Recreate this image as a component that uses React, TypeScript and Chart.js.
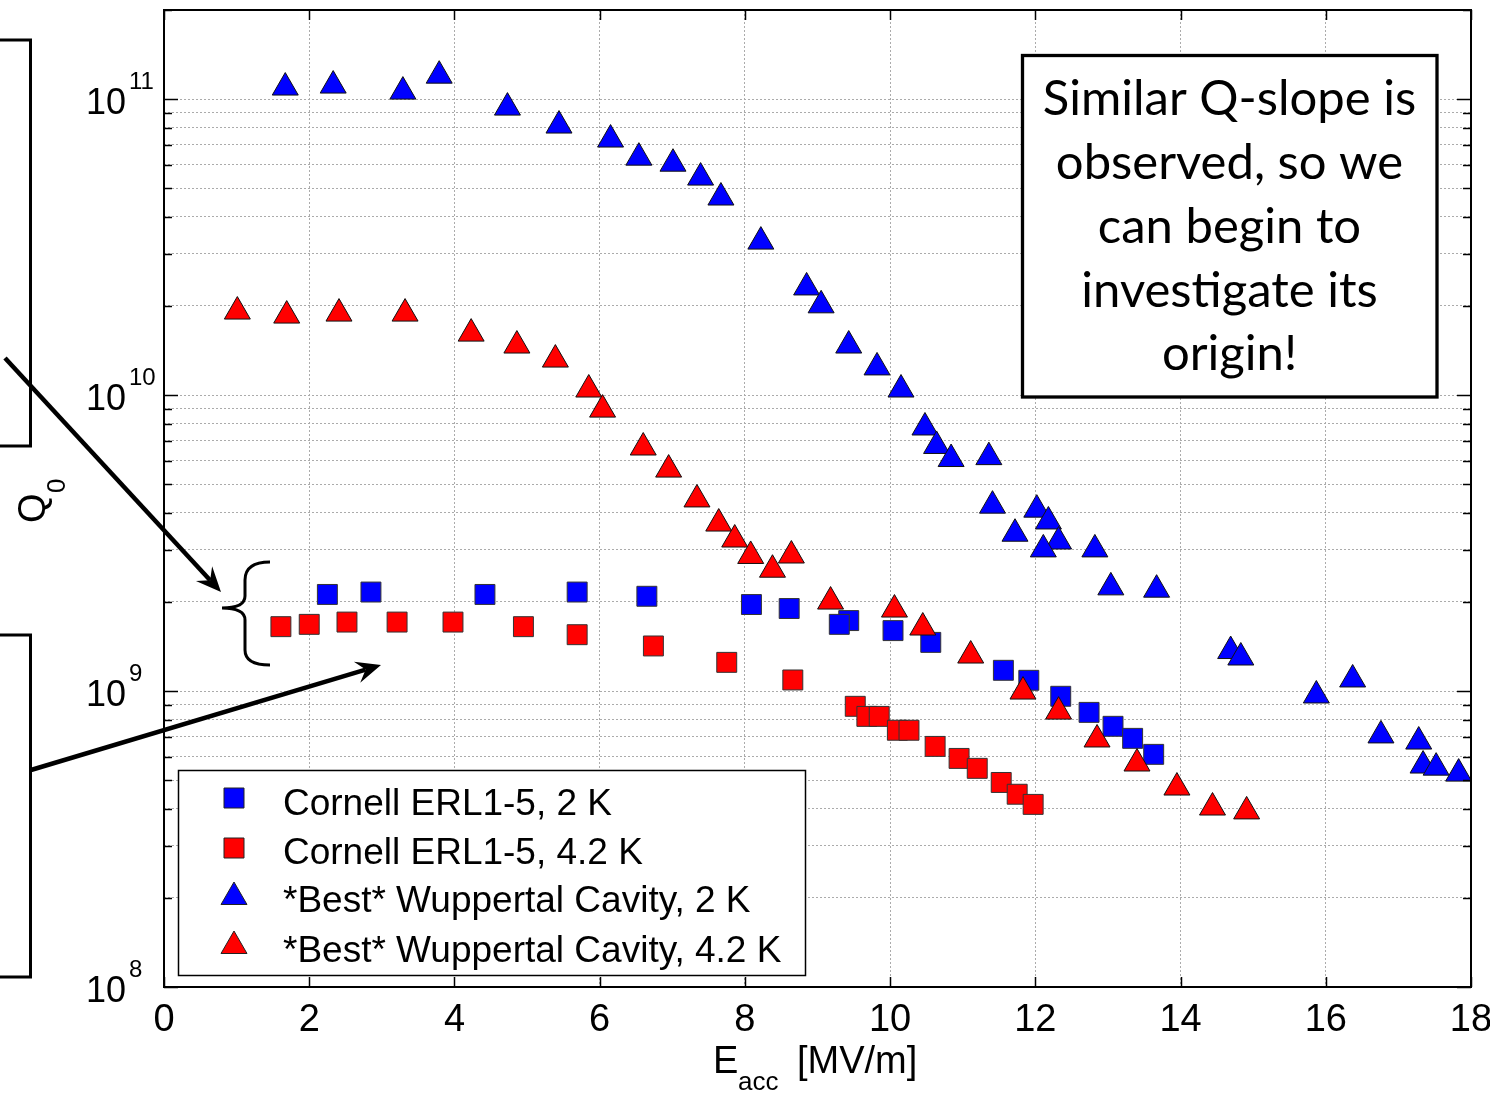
import React, { useEffect, useRef } from 'react';
import { Chart, registerables } from 'chart.js';

Chart.register(...registerables);

// ---------- data ----------
const cornell2K_E = [2.25, 2.85, 4.42, 5.69, 6.65, 8.09, 8.61, 9.43, 9.30, 10.04, 10.56, 11.56, 11.91, 12.35, 12.74, 13.07, 13.34, 13.63];
const cornell2K_Q = [2.12e9, 2.16e9, 2.12e9, 2.16e9, 2.09e9, 1.96e9, 1.90e9, 1.73e9, 1.68e9, 1.60e9, 1.46e9, 1.175e9, 1.087e9, 9.6e8, 8.47e8, 7.6e8, 6.92e8, 6.11e8];

const cornell42K_E = [1.61, 2.00, 2.52, 3.21, 3.98, 4.95, 5.69, 6.74, 7.75, 8.66, 9.52, 9.68, 9.85, 10.10, 10.26, 10.62, 10.95, 11.20, 11.53, 11.75, 11.97];
const cornell42K_Q = [1.65e9, 1.68e9, 1.71e9, 1.71e9, 1.71e9, 1.65e9, 1.55e9, 1.42e9, 1.25e9, 1.09e9, 8.88e8, 8.21e8, 8.21e8, 7.37e8, 7.37e8, 6.5e8, 5.92e8, 5.48e8, 4.91e8, 4.48e8, 4.14e8];

const wupp2K_E = [1.67, 2.33, 3.29, 3.79, 4.73, 5.44, 6.15, 6.54, 7.01, 7.39, 7.67, 8.22, 8.85, 9.05, 9.43, 9.82, 10.15, 10.48, 10.64, 10.84, 11.36, 11.41, 12.02, 12.18, 11.72, 12.32, 12.11, 12.82, 13.04, 13.67, 14.69, 14.83, 15.87, 16.37, 16.76, 17.28, 17.34, 17.52, 17.83];
const wupp2K_Q = [1.094e11, 1.111e11, 1.06e11, 1.2e11, 9.36e10, 8.14e10, 7.3e10, 6.34e10, 6.05e10, 5.43e10, 4.65e10, 3.3e10, 2.31e10, 2.01e10, 1.47e10, 1.24e10, 1.044e10, 7.77e9, 6.73e9, 6.08e9, 6.17e9, 4.23e9, 4.1e9, 3.74e9, 3.4e9, 3.2e9, 3.01e9, 3.01e9, 2.24e9, 2.2e9, 1.365e9, 1.298e9, 9.66e8, 1.094e9, 7.08e8, 6.75e8, 5.6e8, 5.51e8, 5.26e8];

const wupp42K_E = [1.01, 1.69, 2.41, 3.32, 4.23, 4.86, 5.39, 5.85, 6.04, 6.60, 6.95, 7.34, 7.64, 7.86, 8.08, 8.38, 8.64, 9.18, 10.06, 10.45, 11.11, 11.83, 12.32, 12.85, 13.40, 13.95, 14.44, 14.91];
const wupp42K_Q = [1.915e10, 1.856e10, 1.885e10, 1.885e10, 1.613e10, 1.47e10, 1.318e10, 1.044e10, 8.93e9, 6.65e9, 5.6e9, 4.44e9, 3.68e9, 3.25e9, 2.86e9, 2.57e9, 2.87e9, 2.006e9, 1.885e9, 1.639e9, 1.318e9, 9.96e8, 8.52e8, 6.86e8, 5.69e8, 4.72e8, 4.04e8, 3.92e8];

const seriesLabels = [
  'Cornell ERL1-5, 2 K',
  'Cornell ERL1-5, 4.2 K',
  '*Best* Wuppertal Cavity, 2 K',
  '*Best* Wuppertal Cavity, 4.2 K',
];

const xTickValues = [0, 2, 4, 6, 8, 10, 12, 14, 16, 18];
const xTickLabels = ['0', '2', '4', '6', '8', '10', '12', '14', '16', '18'];
const yDecadeValues = [1e8, 1e9, 1e10, 1e11];
const yDecadeExponents = ['8', '9', '10', '11'];
const yGridValues = [
  1e8, 2e8, 3e8, 4e8, 5e8, 6e8, 7e8, 8e8, 9e8,
  1e9, 2e9, 3e9, 4e9, 5e9, 6e9, 7e9, 8e9, 9e9,
  1e10, 2e10, 3e10, 4e10, 5e10, 6e10, 7e10, 8e10, 9e10,
  1e11, 2e11,
];
const noteLines = ['Similar Q-slope is', 'observed, so we', 'can begin to', 'investigate its', 'origin!'];

const SANS = '"Liberation Sans", Arial, sans-serif';

function pts(xs: number[], ys: number[]) {
  return xs.map((x, i) => ({ x, y: ys[i] }));
}

function line(ctx: CanvasRenderingContext2D, x1: number, y1: number, x2: number, y2: number) {
  ctx.beginPath();
  ctx.moveTo(x1, y1);
  ctx.lineTo(x2, y2);
  ctx.stroke();
}

function arrow(ctx: CanvasRenderingContext2D, x1: number, y1: number, x2: number, y2: number) {
  const dx = x2 - x1, dy = y2 - y1;
  const len = Math.hypot(dx, dy);
  const ux = dx / len, uy = dy / len;
  const nx = uy, ny = -ux;
  const L = 25, W = 11, inset = 16;
  ctx.lineWidth = 4.5;
  ctx.strokeStyle = '#000';
  line(ctx, x1, y1, x2 - ux * inset, y2 - uy * inset);
  ctx.fillStyle = '#000';
  ctx.beginPath();
  ctx.moveTo(x2, y2);
  ctx.lineTo(x2 - ux * L + nx * W, y2 - uy * L + ny * W);
  ctx.lineTo(x2 - ux * inset, y2 - uy * inset);
  ctx.lineTo(x2 - ux * L - nx * W, y2 - uy * L - ny * W);
  ctx.closePath();
  ctx.fill();
}

function marker(ctx: CanvasRenderingContext2D, style: string, x: number, y: number, color: string) {
  ctx.fillStyle = color;
  ctx.strokeStyle = '#222';
  ctx.lineWidth = 1;
  ctx.beginPath();
  if (style === 'rect') {
    ctx.rect(x - 10, y - 10, 20, 20);
  } else {
    const r = 15;
    ctx.moveTo(x, y - r);
    ctx.lineTo(x + r * Math.sin((2 * Math.PI) / 3), y - r * Math.cos((2 * Math.PI) / 3));
    ctx.lineTo(x + r * Math.sin((4 * Math.PI) / 3), y - r * Math.cos((4 * Math.PI) / 3));
    ctx.closePath();
  }
  ctx.fill();
  ctx.stroke();
}

const overlay = {
  id: 'overlay',
  beforeDraw(chart: any) {
    const ctx = chart.ctx as CanvasRenderingContext2D;
    ctx.save();
    ctx.fillStyle = '#fff';
    ctx.fillRect(0, 0, chart.width, chart.height);
    ctx.restore();
  },
  afterDraw(chart: any) {
    const ctx = chart.ctx as CanvasRenderingContext2D;
    const a = chart.chartArea;
    const xs = chart.scales.x;
    const ys = chart.scales.y;
    ctx.save();

    // inward tick marks
    ctx.strokeStyle = '#000';
    ctx.lineWidth = 1.5;
    yGridValues.forEach((v) => {
      const py = Math.round(ys.getPixelForValue(v)) + 0.5;
      const len = yDecadeValues.includes(v) ? 14 : 8;
      line(ctx, a.left, py, a.left + len, py);
      line(ctx, a.right, py, a.right - len, py);
    });
    xTickValues.forEach((v) => {
      const px = Math.round(xs.getPixelForValue(v)) + 0.5;
      line(ctx, px, a.top, px, a.top + 10);
      line(ctx, px, a.bottom, px, a.bottom - 10);
    });

    // frame
    ctx.lineWidth = 2;
    ctx.strokeRect(a.left, a.top, a.right - a.left, a.bottom - a.top);

    // x tick labels
    ctx.fillStyle = '#000';
    ctx.font = `38px ${SANS}`;
    ctx.textAlign = 'center';
    ctx.textBaseline = 'alphabetic';
    xTickValues.forEach((v, i) => {
      ctx.fillText(xTickLabels[i], xs.getPixelForValue(v), 1031);
    });

    // y tick labels 10^n
    ctx.textAlign = 'left';
    yDecadeValues.forEach((v, i) => {
      const py = ys.getPixelForValue(v);
      ctx.font = `36px ${SANS}`;
      ctx.fillText('10', 86, py + 15);
      ctx.font = `24px ${SANS}`;
      ctx.fillText(yDecadeExponents[i], 129, py - 10);
    });

    // x title
    ctx.font = `38px ${SANS}`;
    ctx.fillText('E', 713, 1073);
    ctx.font = `26px ${SANS}`;
    ctx.fillText('acc', 738, 1090);
    ctx.font = `38px ${SANS}`;
    ctx.fillText('[MV/m]', 797, 1073);

    // y title
    ctx.save();
    ctx.translate(45, 523);
    ctx.rotate(-Math.PI / 2);
    ctx.font = `38px ${SANS}`;
    ctx.fillText('Q', 0, 0);
    ctx.font = `26px ${SANS}`;
    ctx.fillText('0', 30, 20);
    ctx.restore();

    // legend
    ctx.fillStyle = '#fff';
    ctx.fillRect(178, 770, 628, 205);
    ctx.strokeStyle = '#000';
    ctx.lineWidth = 1.5;
    ctx.strokeRect(178.5, 770.5, 627, 205);
    const legendY = [798, 848, 897, 946];
    const legendBase = [815, 864, 912, 962];
    chart.data.datasets.forEach((ds: any, i: number) => {
      marker(ctx, ds.pointStyle, 234, legendY[i], ds.backgroundColor);
      ctx.fillStyle = '#000';
      ctx.font = `37px ${SANS}`;
      ctx.textAlign = 'left';
      ctx.fillText(seriesLabels[i], 283, legendBase[i]);
    });

    // note box
    ctx.fillStyle = '#fff';
    ctx.fillRect(1022, 55, 415, 342);
    ctx.strokeStyle = '#000';
    ctx.lineWidth = 3.3;
    ctx.strokeRect(1022.5, 55.5, 414.5, 341.5);
    ctx.fillStyle = '#000';
    ctx.font = `50px Lato, "Open Sans", sans-serif`;
    const w0 = ctx.measureText(noteLines[0]).width;
    const fs = (50 * 373) / w0;
    ctx.font = `${fs.toFixed(1)}px Lato, "Open Sans", sans-serif`;
    ctx.textAlign = 'center';
    const noteBase = [115, 179, 243, 307, 370];
    noteLines.forEach((t, i) => ctx.fillText(t, 1229.5, noteBase[i]));

    // left slide annotations (cut-off boxes, arrows, brace)
    ctx.strokeStyle = '#000';
    ctx.lineWidth = 3;
    ctx.beginPath();
    ctx.moveTo(0, 40);
    ctx.lineTo(30.5, 40);
    ctx.lineTo(30.5, 446);
    ctx.lineTo(0, 446);
    ctx.stroke();
    ctx.beginPath();
    ctx.moveTo(0, 635);
    ctx.lineTo(30.5, 635);
    ctx.lineTo(30.5, 977);
    ctx.lineTo(0, 977);
    ctx.stroke();

    arrow(ctx, 5, 358, 221, 592);
    arrow(ctx, 31, 770, 381, 665);

    ctx.lineWidth = 3;
    ctx.strokeStyle = '#000';
    ctx.beginPath();
    ctx.moveTo(270, 562);
    ctx.quadraticCurveTo(245, 562, 245, 580);
    ctx.lineTo(245, 596);
    ctx.quadraticCurveTo(245, 608, 222, 608);
    ctx.quadraticCurveTo(245, 608, 245, 620);
    ctx.lineTo(245, 650);
    ctx.quadraticCurveTo(245, 665, 270, 665);
    ctx.stroke();

    ctx.restore();
  },
};

export default function App() {
  const ref = useRef<HTMLCanvasElement | null>(null);

  useEffect(() => {
    if (!ref.current) return;
    const gridCommon = { color: '#ababab', lineWidth: 1, drawTicks: false };
    const borderCommon = { display: false, dash: [2, 2] };
    const chart = new Chart(ref.current, {
      type: 'scatter',
      data: {
        datasets: [
          { label: seriesLabels[0], data: pts(cornell2K_E, cornell2K_Q), pointStyle: 'rect', pointRadius: 14.1, backgroundColor: '#0000ff', borderColor: '#333', borderWidth: 1, order: 4 },
          { label: seriesLabels[1], data: pts(cornell42K_E, cornell42K_Q), pointStyle: 'rect', pointRadius: 14.1, backgroundColor: '#ff0000', borderColor: '#333', borderWidth: 1, order: 3 },
          { label: seriesLabels[2], data: pts(wupp2K_E, wupp2K_Q), pointStyle: 'triangle', pointRadius: 15, backgroundColor: '#0000ff', borderColor: '#111', borderWidth: 1, order: 2 },
          { label: seriesLabels[3], data: pts(wupp42K_E, wupp42K_Q), pointStyle: 'triangle', pointRadius: 15, backgroundColor: '#ff0000', borderColor: '#111', borderWidth: 1, order: 1 },
        ] as any,
      },
      options: {
        responsive: false,
        animation: false,
        devicePixelRatio: 1,
        events: [],
        layout: { autoPadding: false, padding: { left: 164, top: 10, right: 19, bottom: 108 } },
        plugins: { legend: { display: false }, tooltip: { enabled: false } },
        scales: {
          x: {
            type: 'linear',
            min: 0,
            max: 18,
            ticks: { display: false, stepSize: 2 },
            grid: gridCommon,
            border: borderCommon,
          },
          y: {
            type: 'logarithmic',
            min: 1e8,
            max: 2e11,
            ticks: { display: false },
            afterBuildTicks: (s: any) => {
              s.ticks = yGridValues.map((v) => ({ value: v }));
            },
            grid: gridCommon,
            border: borderCommon,
          },
        },
      } as any,
      plugins: [overlay],
    });
    return () => chart.destroy();
  }, []);

  return (
    <div style={{ position: 'fixed', left: 0, top: 0, width: 1490, height: 1095, background: '#fff' }}>
      <canvas ref={ref} width={1490} height={1095} style={{ display: 'block', width: 1490, height: 1095 }} />
    </div>
  );
}
